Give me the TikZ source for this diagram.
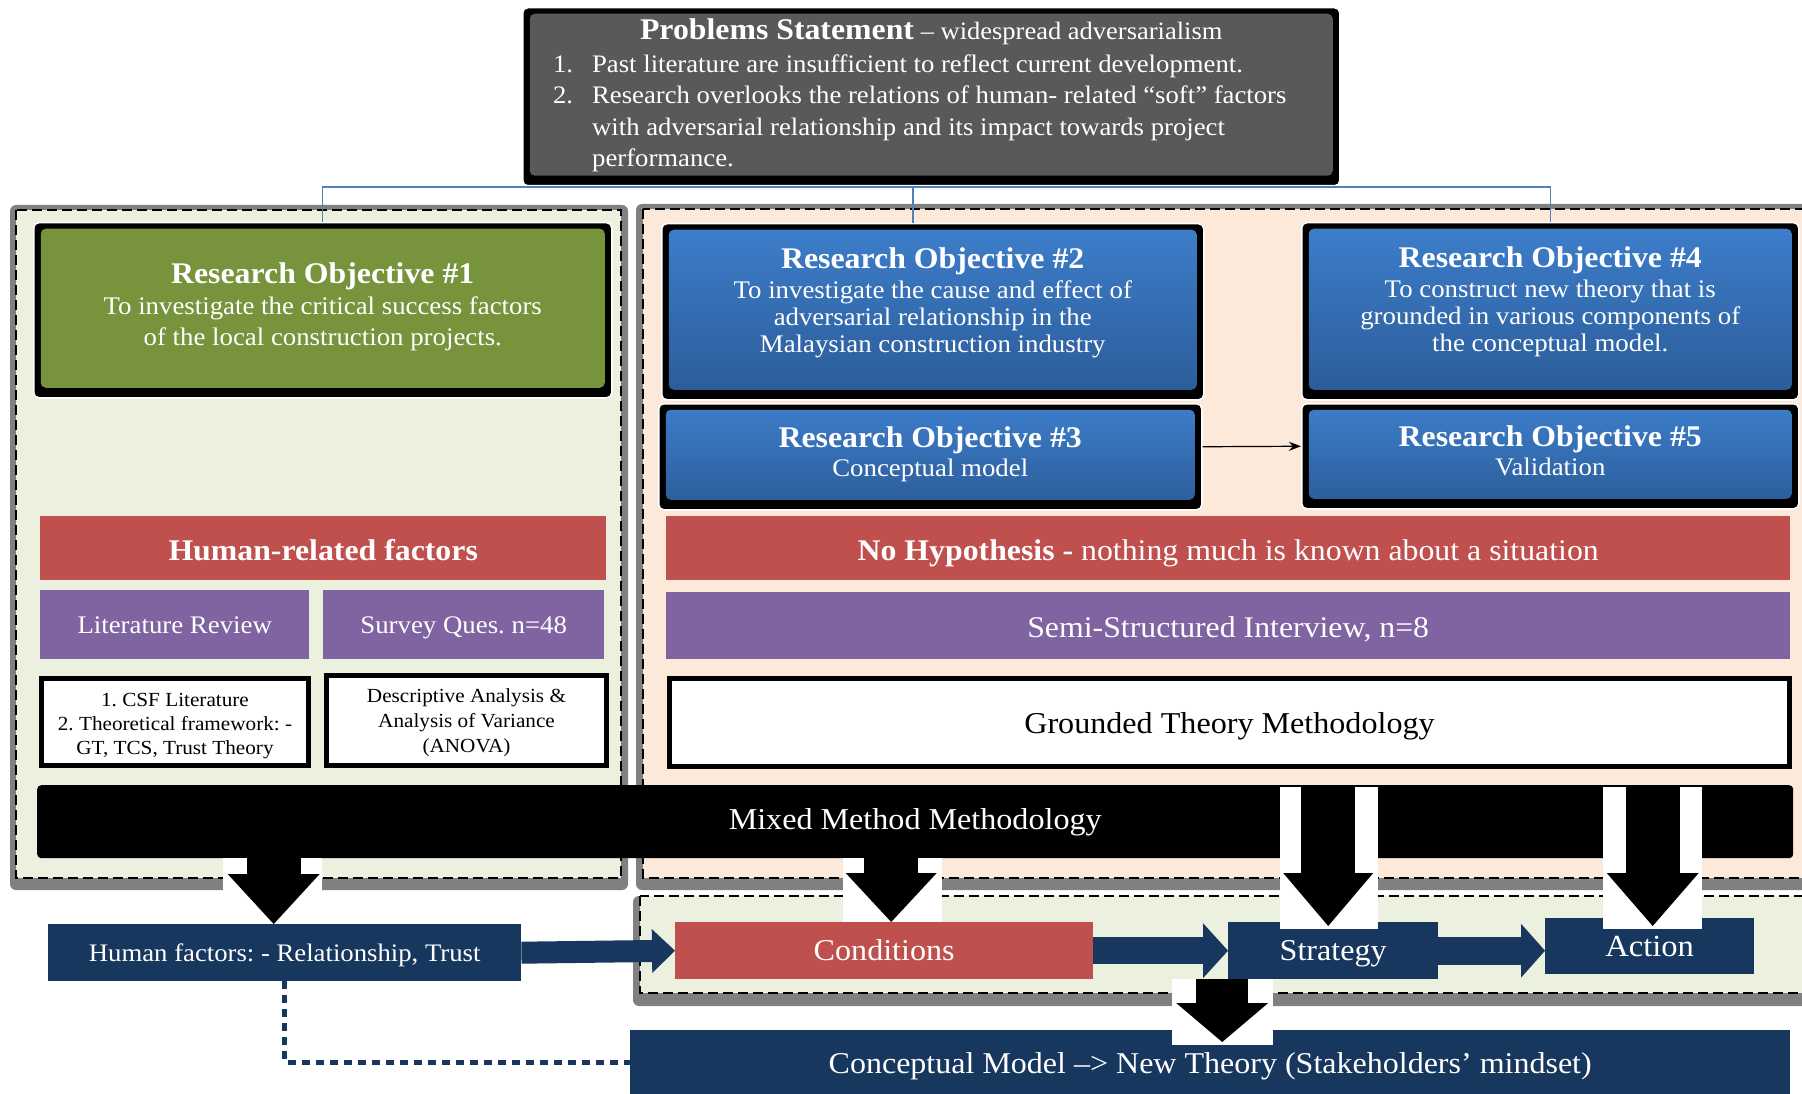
\documentclass[tikz,border=0pt]{standalone}
\usepackage{fontspec}
\setmainfont{Liberation Serif}[FakeStretch=1.06]
\usetikzlibrary{arrows.meta}

\definecolor{probgray}{HTML}{595959}
\definecolor{olivec}{HTML}{77933C}
\definecolor{bluetop}{HTML}{3D7ECB}
\definecolor{bluebot}{HTML}{2B5B97}
\definecolor{redc}{HTML}{C0504D}
\definecolor{purplec}{HTML}{8064A2}
\definecolor{navyc}{HTML}{17375E}
\definecolor{lightg}{HTML}{EBF1DE}
\definecolor{peachc}{HTML}{FDE9D9}
\definecolor{shadowg}{HTML}{808080}
\definecolor{treeblue}{HTML}{4F81BD}

\tikzset{
  objbox/.style={fill=black, draw=white, line width=1.5pt, rounded corners=5pt, inner sep=0pt,
    anchor=north west, align=center, text=white,
    path picture={\fill[#1] ([shift={(7pt,-6pt)}]path picture bounding box.north west)
      rectangle ([shift={(-7pt,10pt)}]path picture bounding box.south east);}},
  bar/.style={fill=#1, inner sep=0pt, anchor=north west, align=center, text=white},
  whitebox/.style={fill=white, draw=black, line width=5pt, inner sep=0pt, anchor=north west, align=center},
  oneline/.style={text height=#1, text depth=0pt},
  container/.style={draw=black, line width=2pt, dash pattern=on 10pt off 5pt},
  fat/.style n args={3}{line width=#1pt, -{Triangle[length=#2pt,width=#3pt,line width=0pt]}},
  tree/.style={draw=treeblue, line width=1.2pt}
}
\frenchspacing

\begin{document}
\begin{tikzpicture}[x=1pt,y=-1pt]
\useasboundingbox (0,0) rectangle (1802,1094);

% dashed containers
\fill[shadowg, rounded corners=6pt] (10,205) rectangle (628,890);
\draw[container, fill=lightg] (16,210) rectangle (621,878);
\fill[shadowg, rounded corners=6pt] (636,204) rectangle (1815,890);
\draw[container, fill=peachc] (643,209) rectangle (1815,878);
\fill[shadowg, rounded corners=6pt] (633,896) rectangle (1815,1006);
\draw[container, fill=lightg] (640,896) rectangle (1815,993);

% problem statement
\node[objbox={fill=probgray}, minimum width=817pt, minimum height=178pt, text depth=102pt,
  font=\fontsize{25.2}{31.5}\selectfont] (prob) at (522,7)
  {{\fontsize{30}{31.5}\selectfont\bfseries Problems Statement} {\fontsize{25}{31.5}\selectfont – widespread adversarialism}\\[1pt]
   \begin{tabular}[t]{@{}l@{\hspace{19pt}}l@{}}
   1. & Past literature are insufficient to reflect current development.\\
   2. & Research overlooks the relations of human- related “soft” factors\\
      & with adversarial relationship and its impact towards project\\
      & performance.
   \end{tabular}\rule{23pt}{0pt}};

% research objectives
\node[objbox={fill=olivec}, minimum width=578pt, minimum height=175pt, text depth=12pt,
  font=\fontsize{25.3}{31}\selectfont] (ro1) at (33,222)
  {{\fontsize{30}{31}\selectfont\bfseries Research Objective \#1}\\
   To investigate the critical success factors\\of the local construction projects.};
\node[objbox={top color=bluetop,bottom color=bluebot}, minimum width=542pt, minimum height=176pt,
  text depth=24pt, font=\fontsize{25.3}{27}\selectfont] (ro2) at (661,223)
  {{\fontsize{30}{31}\selectfont\bfseries Research Objective \#2}\\[3pt]
   To investigate the cause and effect of\\adversarial relationship in the\\Malaysian construction industry};
\node[objbox={top color=bluetop,bottom color=bluebot}, minimum width=497pt, minimum height=177pt,
  text depth=24pt, font=\fontsize{25.3}{27}\selectfont] (ro4) at (1301,222)
  {{\fontsize{30}{31}\selectfont\bfseries Research Objective \#4}\\[3pt]
   To construct new theory that is\\grounded in various components of\\the conceptual model.};
\node[objbox={top color=bluetop,bottom color=bluebot}, minimum width=543pt, minimum height=106pt,
  text depth=10pt, font=\fontsize{25.3}{29}\selectfont] (ro3) at (658,403)
  {{\fontsize{30}{31}\selectfont\bfseries Research Objective \#3}\\Conceptual model};
\node[objbox={top color=bluetop,bottom color=bluebot}, minimum width=497pt, minimum height=105pt,
  text depth=11.5pt, font=\fontsize{25.3}{29}\selectfont] (ro5) at (1301,403)
  {{\fontsize{30}{31}\selectfont\bfseries Research Objective \#5}\\Validation};

% left column
\node[bar=redc, oneline=24pt, minimum width=566pt, minimum height=64pt, font=\fontsize{30}{32}\selectfont\bfseries]
  (hrf) at (40,516) {Human-related factors};
\node[bar=purplec, oneline=17.6pt, minimum width=269pt, minimum height=69pt, font=\fontsize{25.3}{30}\selectfont]
  (litrev) at (40,590) {Literature Review};
\node[bar=purplec, oneline=17.6pt, minimum width=281pt, minimum height=69pt, font=\fontsize{25.3}{30}\selectfont]
  (survey) at (323,590) {Survey Ques. n=48};
\node[whitebox, text height=69.7pt, minimum width=267pt, minimum height=87pt, font=\fontsize{20}{24}\selectfont]
  (csf) at (39,676) {1. CSF Literature\\2. Theoretical framework: -\\GT, TCS, Trust Theory};
\node[whitebox, text height=69pt, minimum width=280pt, minimum height=90pt, font=\fontsize{20}{25}\selectfont]
  (anova) at (324,673) {Descriptive Analysis \&\\Analysis of Variance\\(ANOVA)};

% right column
\node[bar=redc, oneline=24pt, minimum width=1124pt, minimum height=64pt, font=\fontsize{30}{32}\selectfont]
  (nohyp) at (666,516) {\textbf{No Hypothesis -} nothing much is known about a situation};
\node[bar=purplec, oneline=23pt, minimum width=1124pt, minimum height=67pt, font=\fontsize{30}{32}\selectfont]
  (semi) at (666,592) {Semi-Structured Interview, n=8};
\node[whitebox, oneline=21pt, minimum width=1120pt, minimum height=88pt, font=\fontsize{30.3}{33}\selectfont]
  (gtm) at (667,676) {Grounded Theory Methodology};

\node[bar=black, oneline=15.6pt, rounded corners=4pt, minimum width=1756pt, minimum height=73pt,
  font=\fontsize{30.3}{33}\selectfont] (mixed) at (37,785) {Mixed Method Methodology};

% bottom row
\node[bar=navyc, oneline=18.4pt, minimum width=473pt, minimum height=57pt, font=\fontsize{25.2}{28}\selectfont]
  (hf) at (48,924) {Human factors: - Relationship, Trust};
\node[bar=redc, oneline=19pt, minimum width=418pt, minimum height=57pt, font=\fontsize{30.3}{32}\selectfont]
  (cond) at (675,922) {Conditions};
\node[bar=navyc, oneline=19pt, minimum width=210pt, minimum height=57pt, font=\fontsize{30.3}{32}\selectfont]
  (strat) at (1228,922) {Strategy};
\node[bar=navyc, oneline=20pt, minimum width=209pt, minimum height=56pt, font=\fontsize{30.7}{32}\selectfont]
  (act) at (1545,918) {Action};
\node[bar=navyc, oneline=22.6pt, minimum width=1160pt, minimum height=64pt, font=\fontsize{30.2}{35}\selectfont]
  (concept) at (630,1030) {Conceptual Model –> New Theory (Stakeholders’ mindset)};

% white gaps behind the block arrows
\fill[white] (223,858) rectangle (322,923);
\fill[white] (843,858) rectangle (942,922);
\fill[white] (1280,787) rectangle (1378,929);
\fill[white] (1603,787) rectangle (1702,929);
\fill[white] (1172,979) rectangle (1273,1045);

% connectors
\coordinate (hub) at (913,187);
\draw[tree] (hub |- prob.south) -- (hub |- ro2.north);
\draw[tree] (ro1.north) |- (hub) -| (ro4.north);
\draw[line width=1.2pt, -{Stealth[length=12pt,width=9pt]}] ([yshift=10pt]ro3.east) -- ([yshift=10pt]ro5.west);

\draw[fat={54}{50}{92}] ([xshift=-11pt]hf.north |- mixed.south) -- ([xshift=-11pt]hf.north);
\draw[fat={54}{49}{91}] ([xshift=7pt]cond.north |- mixed.south) -- ([xshift=7pt]cond.north);
\draw[fat={54}{53}{90}] ([xshift=-5pt]strat.north |- mixed.north) -- ([xshift=-5pt,yshift=-4pt]strat.north);
\draw[fat={54}{53}{92}] ([xshift=3pt]act.north |- mixed.north) -- ([xshift=3pt,yshift=-8pt]act.north);
\draw[fat={52}{39}{92}] ([xshift=12pt]concept.north |- strat.south) -- ([xshift=12pt,yshift=-12pt]concept.north);

\draw[navyc, fat={22}{23}{44}] (hf.east) -- (cond.west);
\draw[navyc, fat={27}{25}{55}] (cond.east) -- (strat.west);
\draw[navyc, fat={28}{24}{54}] (strat.east) -- (strat.east -| act.west);

\draw[navyc, line width=5pt, dash pattern=on 8pt off 6pt] (hf.south) |- (concept.west);
\end{tikzpicture}
\end{document}
